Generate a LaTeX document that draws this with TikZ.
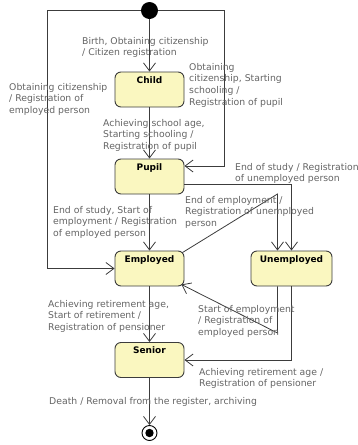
\documentclass[tikz,border=0pt]{standalone}
\usepackage{fontspec}
\setmainfont{DejaVu Sans}
\usetikzlibrary{arrows.meta,calc}
\definecolor{statefill}{RGB}{250,247,192}
\definecolor{lineclr}{RGB}{60,60,60}
\definecolor{txtclr}{RGB}{100,100,100}
\tikzset{
  state/.style={draw=lineclr, line width=0.9pt, fill=statefill, rounded corners=6pt,
    minimum width=69pt, inner ysep=4.5pt, text height=6.6pt, text depth=19.4pt,
    font=\fontsize{9}{11}\selectfont\bfseries, text=black},
  tr/.style={draw=lineclr, line width=0.8pt,
    -{Straight Barb[length=8pt,width=12pt,line width=0.8pt]}},
  lbl/.style={anchor=north west, inner sep=0pt, align=left, text=txtclr,
    font=\fontsize{9.3}{11.7}\selectfont},
}
\begin{document}
\begin{tikzpicture}[x=1pt, y=-1pt]
\useasboundingbox (0,0) rectangle (357,445);

% states
\node[state] (child) at (149.5,89.5) {Child};
\node[state] (pupil) at (149.5,176.5) {Pupil};
\node[state] (emp)   at (149.5,268.5) {Employed};
\node[state, minimum width=81pt] (unemp) at (291.5,268.5) {Unemployed};
\node[state] (senior) at (149.5,360) {Senior};

% pseudo states
\node[circle, fill=black, minimum size=17pt, inner sep=0pt] (init) at (149.5,10.5) {};
\node[circle, draw=black, line width=0.9pt, minimum size=15pt, inner sep=0pt] (fin) at (149.5,433) {};
\fill[black] (fin.center) circle (4.2pt);

% bend points
\coordinate (leftTop)  at (47,10.5);
\coordinate (rightTop) at (224,10.5);
\coordinate (eu) at (277.5,194);
\coordinate (ue) at (277.5,333);

% transitions
\draw[tr] (init) -- (child);
\draw[tr] (init) -- (rightTop) |- ([yshift=10.5pt]pupil.east);
\draw[tr] (init) -- (leftTop) |- (emp.west);
\draw[tr] (child) -- (pupil);
\draw[tr] (pupil) -- (emp);
\draw[tr] ([yshift=-7.5pt]pupil.east) -| (unemp.north);
\draw[tr] ([xshift=-2pt,yshift=-2pt]emp.north east) -- (eu) -- (eu |- unemp.north);
\draw[tr] (ue |- unemp.south) -- (ue) -- ([xshift=-3pt,yshift=2pt]emp.south east);
\draw[tr] (emp) -- (senior);
\draw[tr] (unemp.south) |- (senior.east);
\draw[tr] (senior) -- (fin);

% transition labels
\node[lbl] (l1) at (82,37) {Birth, Obtaining citizenship\\/ Citizen registration};
\node[lbl] (l2) at (189,63) {Obtaining\\citizenship, Starting\\schooling /\\Registration of pupil};
\node[lbl] (l3) at (9,83) {Obtaining citizenship\\/ Registration of\\employed person};
\node[lbl] (l4) at (103,119) {Achieving school age,\\Starting schooling /\\Registration of pupil};
\node[lbl] (l5) at (235,163) {End of study / Registration\\of unemployed person};
\node[lbl] (l6) at (53,206) {End of study, Start of\\employment / Registration\\of employed person};
\node[lbl] (l7) at (185,196) {End of employment /\\Registration of unemployed\\person};
\node[lbl] (l8) at (48,300) {Achieving retirement age,\\Start of retirement /\\Registration of pensioner};
\node[lbl] (l9) at (198,305) {Start of employment\\/ Registration of\\employed person};
\node[lbl] (l10) at (199,368) {Achieving retirement age /\\Registration of pensioner};
\node[lbl] (l11) at (49,397) {Death / Removal from the register, archiving};
\end{tikzpicture}
\end{document}
